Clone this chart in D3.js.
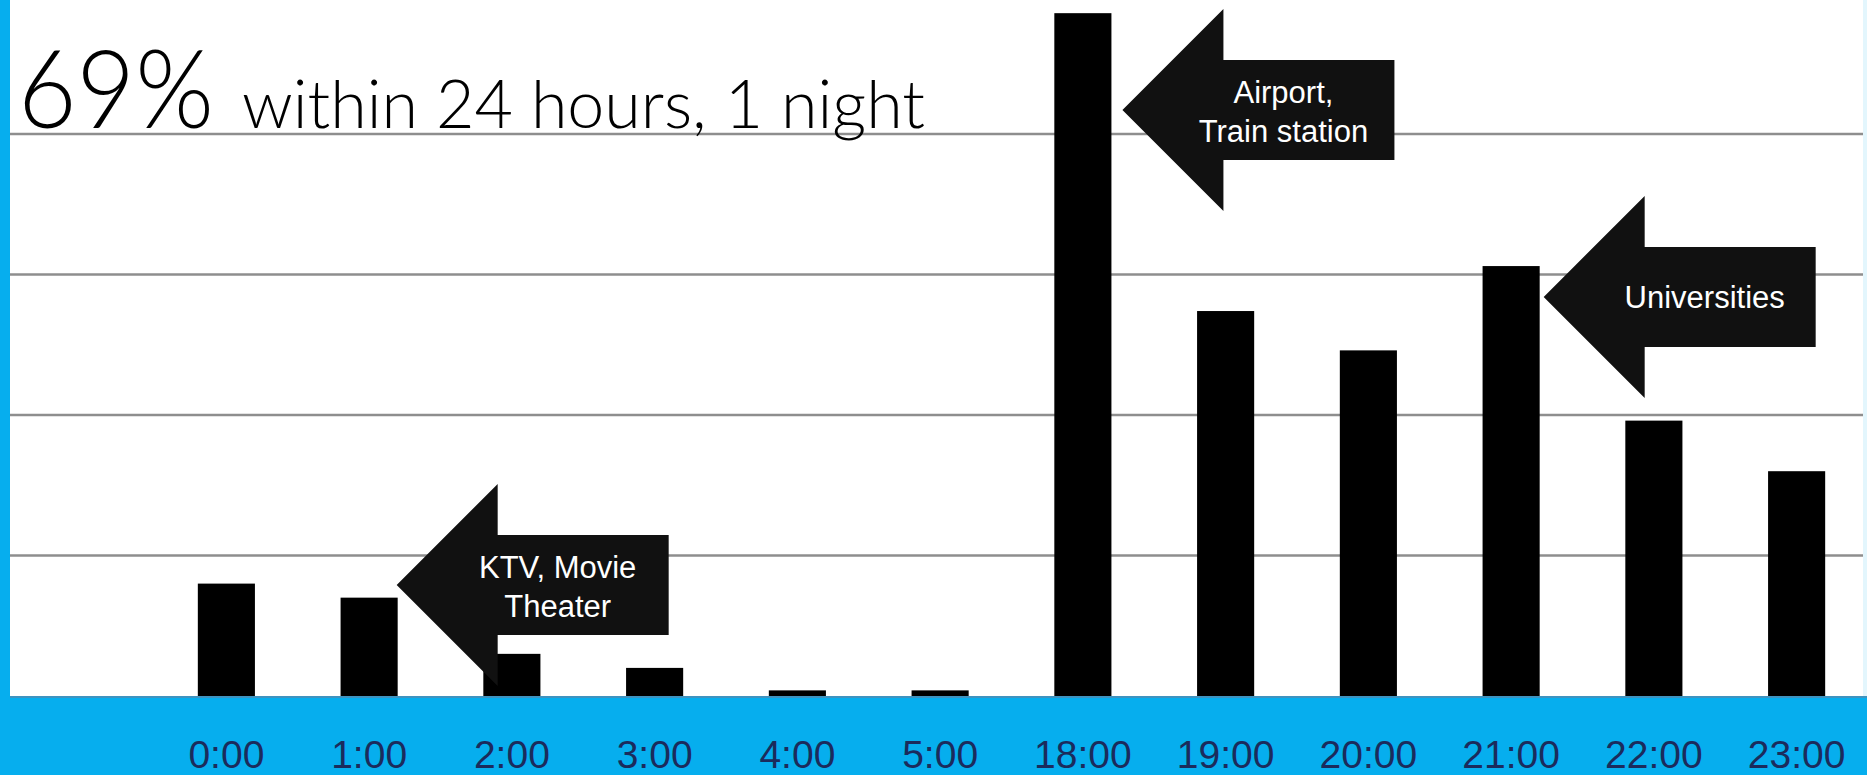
<!DOCTYPE html>
<html>
<head>
<meta charset="utf-8">
<script src="https://cdn.jsdelivr.net/npm/d3@7/dist/d3.min.js"></script>
<style>
  html, body { margin: 0; padding: 0; background: #ffffff; overflow: hidden; }
  svg { display: block; }
</style>
</head>
<body>
<svg id="chart" width="1867" height="775"></svg>
<script>
// Check-in hour categories and relative booking volumes
const hours = ["0:00", "1:00", "2:00", "3:00", "4:00", "5:00",
               "18:00", "19:00", "20:00", "21:00", "22:00", "23:00"];
const volumes = [4.0, 3.5, 1.5, 1.0, 0.2, 0.2,
                 24.3, 13.7, 12.3, 15.3, 9.8, 8.0];
const gridValues = [5, 10, 15, 20];

// Callouts pointing at bars (tip height in value units)
const calloutHours = ["18:00", "21:00", "1:00"];
const calloutTips = [20.85, 14.2, 3.95];
const calloutTexts = [["Airport,", "Train station"], ["Universities"], ["KTV, Movie", "Theater"]];

const titleBig = "69%";
const titleRest = "within 24 hours, 1 night";

const W = 1867, H = 775;
const baseY = 696;
const blue = "#06aeee";

const svg = d3.select("#chart");

const x = d3.scaleBand()
  .domain(hours)
  .range([155, 1868])
  .paddingInner(0.6)
  .paddingOuter(0.3);

const y = d3.scaleLinear()
  .domain([0, 25])
  .range([baseY, baseY - 25 * 28.1]);

// background
svg.append("rect").attr("x", 0).attr("y", 0).attr("width", W).attr("height", H).attr("fill", "#ffffff");

// horizontal gridlines
svg.append("g").selectAll("line")
  .data(gridValues)
  .join("line")
  .attr("x1", 10).attr("x2", W)
  .attr("y1", d => y(d)).attr("y2", d => y(d))
  .attr("stroke", "#8e8e8e")
  .attr("stroke-width", 2.5);

// bars
svg.append("g").selectAll("rect")
  .data(hours.map((h, i) => ({ h, v: volumes[i] })))
  .join("rect")
  .attr("x", d => x(d.h))
  .attr("width", x.bandwidth())
  .attr("y", d => y(d.v))
  .attr("height", d => y(0) - y(d.v))
  .attr("fill", "#000000");

// block-arrow callouts
const headLen = 101, bodyLen = 171, headHalf = 101, bodyHalf = 50;
const callouts = calloutHours.map((h, i) => ({
  tipX: x(h) + x.bandwidth() + (i === 0 ? 11 : (i === 1 ? 4 : -1)),
  tipY: y(calloutTips[i]),
  lines: calloutTexts[i]
}));

const cg = svg.append("g").selectAll("g")
  .data(callouts)
  .join("g");

cg.append("path")
  .attr("d", d => {
    const tx = d.tipX, ty = d.tipY;
    return `M${tx},${ty}` +
      `L${tx + headLen},${ty - headHalf}` +
      `L${tx + headLen},${ty - bodyHalf}` +
      `L${tx + headLen + bodyLen},${ty - bodyHalf}` +
      `L${tx + headLen + bodyLen},${ty + bodyHalf}` +
      `L${tx + headLen},${ty + bodyHalf}` +
      `L${tx + headLen},${ty + headHalf}Z`;
  })
  .attr("fill", "#111111");

cg.each(function(d) {
  const g = d3.select(this);
  const cx = d.tipX + 161;
  const baselines = d.lines.length === 1 ? [d.tipY + 11] : [d.tipY - 7, d.tipY + 32];
  d.lines.forEach((t, k) => {
    g.append("text")
      .attr("x", cx)
      .attr("y", baselines[k])
      .attr("text-anchor", "middle")
      .attr("font-family", "'Liberation Sans', Arial, sans-serif")
      .attr("font-size", 31)
      .attr("fill", "#ffffff")
      .text(t);
  });
});

// blue frame: left stripe and bottom band
svg.append("rect").attr("x", 0).attr("y", 0).attr("width", 10).attr("height", H).attr("fill", blue);
svg.append("rect").attr("x", W - 4).attr("y", 0).attr("width", 4).attr("height", baseY).attr("fill", "#e3f6fd");
svg.append("rect").attr("x", 0).attr("y", baseY).attr("width", W).attr("height", H - baseY).attr("fill", blue);
svg.append("line")
  .attr("x1", 10).attr("x2", W).attr("y1", baseY + 1).attr("y2", baseY + 1)
  .attr("stroke", "#3f93c0").attr("stroke-width", 2);

// category axis
const axis = svg.append("g")
  .attr("transform", `translate(0,${baseY})`)
  .call(d3.axisBottom(x).tickSize(0).tickPadding(0));
axis.select(".domain").remove();
axis.selectAll("text")
  .attr("y", 72)
  .attr("dy", 0)
  .attr("font-family", "'Liberation Sans', Arial, sans-serif")
  .attr("font-size", 39)
  .attr("fill", "#1b2b5c");

// headline
svg.append("text")
  .attr("x", 18).attr("y", 128)
  .attr("font-family", "Lato, 'DejaVu Sans', sans-serif")
  .attr("font-weight", 300)
  .attr("font-size", 109)
  .attr("textLength", 196)
  .attr("lengthAdjust", "spacingAndGlyphs")
  .attr("fill", "#000000")
  .text(titleBig);
svg.append("text")
  .attr("x", 242).attr("y", 128)
  .attr("font-family", "Lato, 'DejaVu Sans', sans-serif")
  .attr("font-weight", 300)
  .attr("font-size", 67)
  .attr("textLength", 683)
  .attr("lengthAdjust", "spacingAndGlyphs")
  .attr("fill", "#000000")
  .text(titleRest);
</script>
</body>
</html>
